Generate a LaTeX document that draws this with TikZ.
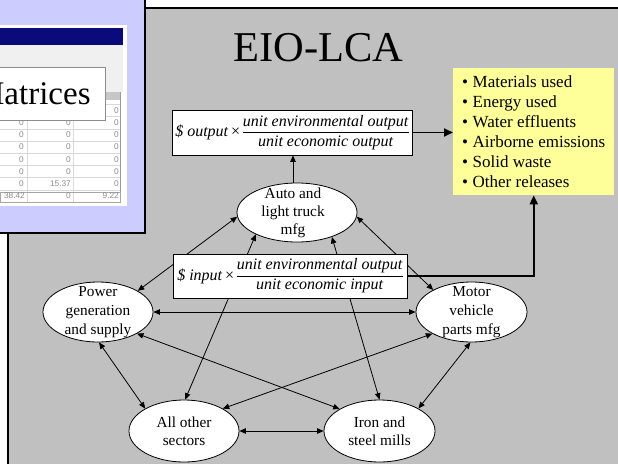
\documentclass[tikz,border=0pt]{standalone}
\usepackage{fontspec}
\setmainfont{Liberation Serif}
\newfontfamily\uisans{Liberation Sans}
\usetikzlibrary{shapes.geometric,arrows.meta}
\pgfdeclarelayer{back}
\pgfdeclarelayer{wires}
\pgfsetlayers{back,wires,main}
\definecolor{panelgray}{HTML}{C0C0C0}
\definecolor{lavpanel}{HTML}{CCCCFF}
\definecolor{noteyellow}{HTML}{FFFF99}
\definecolor{titlenavy}{HTML}{0A0A7A}
\newcommand\myfrac[2]{\begin{tabular}{@{}c@{}}\textit{#1}\\\hline\textit{#2}\end{tabular}}
\newcommand\itm{\textbullet\hspace{4.5pt}}
\setlength\arrayrulewidth{0.9pt}
\begin{document}
\begin{tikzpicture}[x=1pt,y=-1pt,
  sector/.style={ellipse,draw=black,line width=0.8pt,fill=white,inner sep=0pt},
  sectortext/.style={align=center,inner sep=0pt,font=\fontsize{15.3}{18}\selectfont},
  formula/.style={draw=black,line width=0.8pt,fill=white,inner sep=0pt,font=\fontsize{16}{19}\selectfont},
  link/.style={{Triangle[length=6.5pt,width=5.5pt]}-{Triangle[length=6.5pt,width=5.5pt]},line width=0.8pt},
  oneway/.style={-{Triangle[length=6.5pt,width=5.5pt]},line width=0.8pt},
  heavylink/.style={-{Triangle[length=9pt,width=8pt]},line width=1.8pt},
  cellnum/.style={font=\uisans\fontsize{8.3}{9}\selectfont,text=black!45,anchor=east,inner sep=0pt},
  gridline/.style={draw=black!15,line width=0.5pt}
]
\useasboundingbox (0,0) rectangle (618,463);

% ---- main nodes
\node[anchor=base,inner sep=0pt,font=\fontsize{42.5}{50}\selectfont] (title) at (318.5,61) {EIO-LCA};

\node[formula,minimum width=240pt,minimum height=45pt] (outbox) at (292,132.5)
  {\textit{\$ output}\,{\upshape ×}\,\myfrac{unit environmental output}{unit economic output}};
\node[formula,minimum width=234pt,minimum height=44pt] (inbox) at (290,276)
  {\textit{\$ input}\,{\upshape ×}\,\myfrac{unit environmental output}{unit economic input}};

\node[fill=noteyellow,anchor=north west,minimum width=159pt,minimum height=126pt,
      inner xsep=9pt,inner ysep=7.5pt,align=left,font=\fontsize{17}{20}\selectfont] (effects) at (453,68)
  {\itm Materials used\\\itm Energy used\\\itm Water effluents\\\itm Airborne emissions\\\itm Solid waste\\\itm Other releases};

\node[sector,minimum width=120pt,minimum height=59pt] (auto) at (297,212.5) {};
\node[sectortext] (autotext) at (293,212.5) {Auto and\\light truck\\mfg};

\node[sector,minimum width=110pt,minimum height=60pt] (power) at (98,312) {};
\node[sectortext,font=\fontsize{15.3}{19}\selectfont] (powertext) at (98,312) {Power\\generation\\and supply};

\node[sector,minimum width=111pt,minimum height=60pt] (motor) at (471.5,312) {};
\node[sectortext,font=\fontsize{15.3}{19}\selectfont] (motortext) at (471.5,312) {Motor\\vehicle\\parts mfg};

\node[sector,minimum width=111pt,minimum height=62pt] (iron) at (379.5,431) {};
\node[sectortext] (irontext) at (379.5,431) {Iron and\\steel mills};

\node[sector,minimum width=110pt,minimum height=62pt] (other) at (184,431) {};
\node[sectortext] (othertext) at (184,431) {All other\\sectors};

% ---- background
\begin{pgfonlayer}{back}
\fill[white] (0,0) rectangle (618,463);
\fill[panelgray] (8.3,8.3) rectangle (630,470);
\draw[line width=2pt] (630,8.3) -- (8.3,8.3) -- (8.3,470);
\end{pgfonlayer}

% ---- connectors
\begin{pgfonlayer}{wires}
\draw[link] (power.28) -- (auto.184);
\draw[link] (auto.-4) -- (motor.150);
\draw[link] (auto.208) -- (other.88);
\draw[link] (auto.-35) -- (iron.90);
\draw[link] (power.east) -- (motor.west);
\draw[link] (power.-29) -- (iron.151);
\draw[link] (motor.209) -- (other.30);
\draw[link] (power.-88) -- (other.150);
\draw[link] (motor.-92) -- (iron.30);
\draw[link] (other.east) -- (iron.west);
\draw[oneway] (auto.north -| autotext.center) -- (outbox.south -| autotext.center);
\draw[heavylink] (outbox.east) -- (outbox.east -| effects.west);
\draw[heavylink] (inbox.east) -| (effects.south);
\end{pgfonlayer}

% ---- screenshot panel
\begin{scope}
\clip (0,0) rectangle (145,233);
\fill[lavpanel] (0,0) rectangle (145,233);
\fill[white] (0,25) rectangle (127,206);
\fill[titlenavy] (0,28.3) rectangle (123,45);
\fill[black!6] (0,45) rectangle (123,92);
\fill[black!22] (0,92) rectangle (121,100);
\foreach \k in {0,...,8} \draw[gridline] (0,{104.4+12.2*\k}) -- (120.7,{104.4+12.2*\k});
\foreach \xx in {27,73} \draw[gridline] (\xx,100) -- (\xx,202);
\draw[black!40,line width=0.6pt] (120.7,92) -- (120.7,202);
\draw[black!35,line width=0.6pt] (0,192) rectangle (120.7,202);
\node[cellnum] (r0c3) at (119,110.5) {0};
\foreach \k in {1,...,5}{
  \node[cellnum] (r\k c1) at (24,{110.5+12.2*\k}) {0};
  \node[cellnum] (r\k c2) at (71,{110.5+12.2*\k}) {0};
  \node[cellnum] (r\k c3) at (119,{110.5+12.2*\k}) {0};
}
\node[cellnum] (r6c1) at (24,183.7) {0};
\node[cellnum] (r6c2) at (71,183.7) {15.37};
\node[cellnum] (r6c3) at (119,183.7) {0};
\node[cellnum] (r7c1) at (25,195.9) {38.42};
\node[cellnum] (r7c2) at (71,195.9) {0};
\node[cellnum] (r7c3) at (119,195.9) {9.22};
\node[draw=black!45,fill=white,line width=0.8pt,anchor=south east,inner xsep=15pt,inner ysep=15.75pt,
      font=\fontsize{33}{40}\selectfont] (matrices) at (106,121) {Matrices};
\end{scope}
\draw[line width=2pt] (145,-1) -- (145,233) -- (-1,233);
\end{tikzpicture}
\end{document}
